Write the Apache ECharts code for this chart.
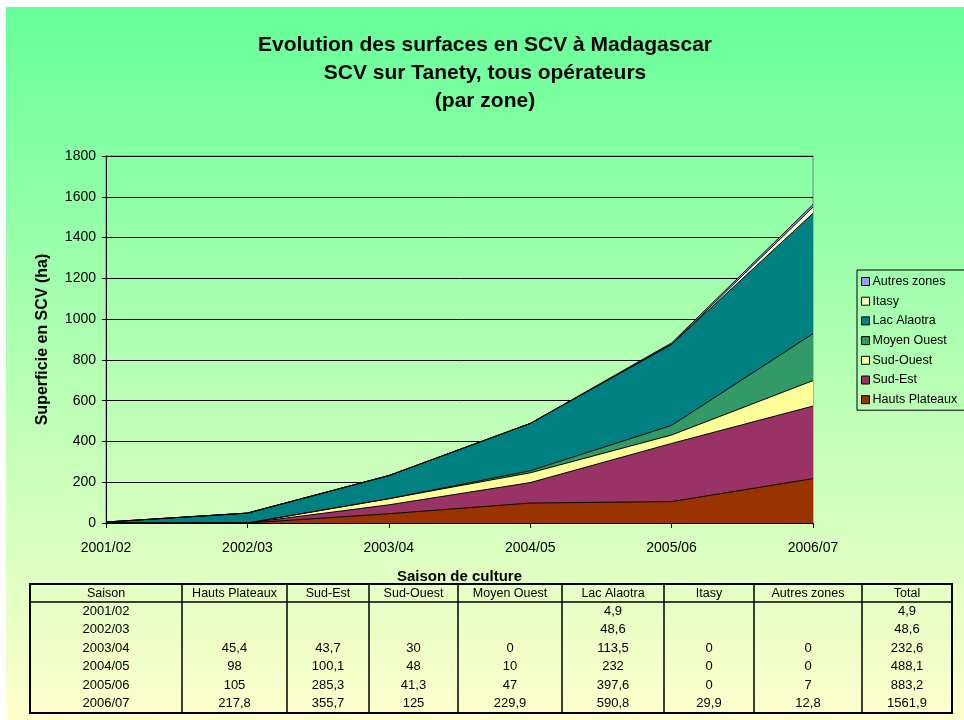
<!DOCTYPE html>
<html>
<head>
<meta charset="utf-8">
<script src="https://cdn.jsdelivr.net/npm/echarts@6/dist/echarts.min.js"></script>
<style>
  body { margin: 0; background: #fff; overflow: hidden; }
  #chart { position: absolute; left: 6px; top: 7px; width: 958px; height: 713px; }
</style>
</head>
<body>
<div id="chart"></div>
<script>
// saisons
const seasons = ['2001/02', '2002/03', '2003/04', '2004/05', '2005/06', '2006/07'];
// surfaces par zone (ha), null = case vide dans le tableau
const hautsPlateaux = [null, null, 45.4, 98, 105, 217.8];
const sudEst = [null, null, 43.7, 100.1, 285.3, 355.7];
const sudOuest = [null, null, 30, 48, 41.3, 125];
const moyenOuest = [null, null, 0, 10, 47, 229.9];
const lacAlaotra = [4.9, 48.6, 113.5, 232, 397.6, 590.8];
const itasy = [null, null, 0, 0, 0, 29.9];
const autresZones = [null, null, 0, 0, 7, 12.8];
const totals = [4.9, 48.6, 232.6, 488.1, 883.2, 1561.9];
const yTicks = [0, 200, 400, 600, 800, 1000, 1200, 1400, 1600, 1800];

const zones = [
  { name: 'Hauts Plateaux', data: hautsPlateaux, color: '#993300' },
  { name: 'Sud-Est', data: sudEst, color: '#993366' },
  { name: 'Sud-Ouest', data: sudOuest, color: '#FFFF99' },
  { name: 'Moyen Ouest', data: moyenOuest, color: '#339966' },
  { name: 'Lac Alaotra', data: lacAlaotra, color: '#008080' },
  { name: 'Itasy', data: itasy, color: '#FFFFCC' },
  { name: 'Autres zones', data: autresZones, color: '#9999FF' }
];

const FONT = 'Liberation Sans, Arial, sans-serif';
const fmt = v => (v === null ? '' : String(v).replace('.', ','));

// tableau sous le graphique
function buildTable() {
  const cols = [24, 176, 281, 363, 452, 556, 658, 748, 856, 946];
  const top = 577, headBottom = 595, bottom = 706;
  const rowH = (bottom - headBottom) / seasons.length;
  const headers = ['Saison'].concat(zones.map(z => z.name), ['Total']);
  const els = [];
  els.push({ type: 'rect', shape: { x: cols[0], y: top, width: cols[9] - cols[0], height: bottom - top },
    style: { fill: null, stroke: '#000', lineWidth: 2 } });
  els.push({ type: 'line', shape: { x1: cols[0], y1: headBottom, x2: cols[9], y2: headBottom },
    style: { stroke: '#000', lineWidth: 1.5 } });
  for (let i = 1; i < cols.length - 1; i++) {
    els.push({ type: 'line', shape: { x1: cols[i], y1: top, x2: cols[i], y2: bottom },
      style: { stroke: '#000', lineWidth: 1.5 } });
  }
  headers.forEach((h, i) => {
    els.push({ type: 'text', x: (cols[i] + cols[i + 1]) / 2, y: (top + headBottom) / 2 + 1,
      style: { text: h, fontSize: 12.5, fontFamily: FONT, fill: '#000', align: 'center', verticalAlign: 'middle' } });
  });
  seasons.forEach((s, r) => {
    const cells = [s].concat(zones.map(z => fmt(z.data[r])), [fmt(totals[r])]);
    cells.forEach((c, i) => {
      if (c === '') return;
      els.push({ type: 'text', x: (cols[i] + cols[i + 1]) / 2, y: headBottom + rowH * (r + 0.5),
        style: { text: c, fontSize: 13, fontFamily: FONT, fill: '#000', align: 'center', verticalAlign: 'middle' } });
    });
  });
  return els;
}

const chart = echarts.init(document.getElementById('chart'));
chart.setOption({
  animation: false,
  backgroundColor: new echarts.graphic.LinearGradient(0, 0, 0, 1, [
    { offset: 0, color: '#66FF99' },
    { offset: 1, color: '#FFFFCC' }
  ]),
  textStyle: { fontFamily: FONT },
  title: {
    text: 'Evolution des surfaces en SCV à Madagascar\nSCV sur Tanety, tous opérateurs\n(par zone)',
    left: 'center', top: 24, padding: 0,
    textStyle: { fontSize: 21, fontWeight: 'bold', color: '#000', lineHeight: 28, fontFamily: FONT }
  },
  legend: {
    orient: 'vertical', left: 851, top: 263,
    data: zones.map(z => z.name).reverse(),
    icon: 'rect', itemWidth: 8, itemHeight: 8, itemGap: 6.7,
    padding: [5, 12, 4, 4],
    borderColor: '#000', borderWidth: 1,
    itemStyle: { borderColor: '#000', borderWidth: 1 },
    textStyle: { fontSize: 12.5, color: '#000', fontFamily: FONT, padding: [0, 0, 0, -2] }
  },
  grid: {
    left: 100, right: 151, top: 149, bottom: 197,
    show: true, borderColor: '#808080', borderWidth: 1, backgroundColor: 'transparent'
  },
  xAxis: {
    type: 'category', data: seasons, boundaryGap: false,
    name: 'Saison de culture', nameLocation: 'middle', nameGap: 46,
    nameTextStyle: { fontSize: 15, fontWeight: 'bold', color: '#000', fontFamily: FONT },
    axisLine: { lineStyle: { color: '#000', width: 1 } },
    axisTick: { show: true, length: 5, lineStyle: { color: '#000' } },
    axisLabel: { fontSize: 14, color: '#000', margin: 18 },
    splitLine: { show: false }
  },
  yAxis: {
    type: 'value', min: yTicks[0], max: yTicks[yTicks.length - 1], interval: 200,
    name: 'Superficie en SCV (ha)', nameLocation: 'middle', nameGap: 55, nameRotate: 90,
    nameTextStyle: { fontSize: 16, fontWeight: 'bold', color: '#000', fontFamily: FONT },
    axisLine: { show: true, lineStyle: { color: '#000', width: 1 } },
    axisTick: { show: true, length: 4, lineStyle: { color: '#000' } },
    axisLabel: { fontSize: 14, color: '#000', margin: 10, formatter: v => String(v) },
    splitLine: { lineStyle: { color: '#000', width: 1 } }
  },
  series: zones.map(z => ({
    name: z.name, type: 'line', stack: 'total',
    data: z.data.map(v => (v === null ? 0 : v)),
    showSymbol: false, symbol: 'none',
    lineStyle: { color: '#000', width: 1 },
    itemStyle: { color: z.color },
    areaStyle: { color: z.color, opacity: 1 },
    emphasis: { disabled: true }
  })),
  graphic: buildTable()
});
</script>
</body>
</html>
